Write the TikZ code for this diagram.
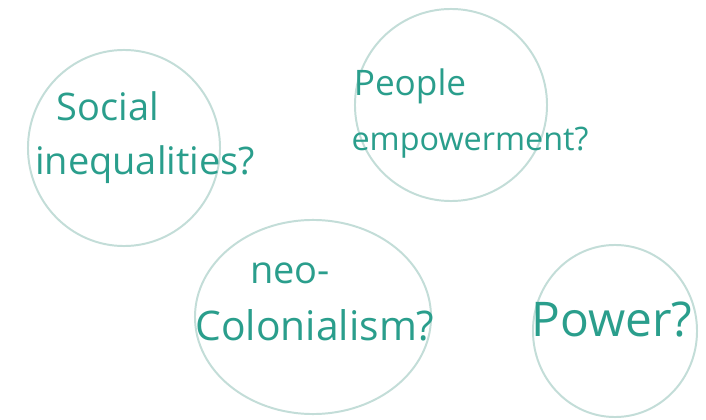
\documentclass[tikz,border=0pt]{standalone}
\usepackage{fontspec}
\setmainfont{Open Sans}
\usepackage{xcolor}
\definecolor{inkteal}{HTML}{2A9E8C}
\definecolor{ringgrey}{HTML}{C3DDD8}
\tikzset{%
	bubble/.style={
		ellipse,
		draw=ringgrey,
		line width=1.4pt
	},
	idea/.style={
		text=inkteal,
		inner sep=0pt,
		font=\fontsize{27}{32}\selectfont
	},
}
\usetikzlibrary{shapes.geometric}

\begin{document}
\begin{tikzpicture}[x=0.025cm, y=-0.025cm]

			\useasboundingbox (0,0) rectangle (706,420);
			\fill[white] (0,0) rectangle (706,420);

			\node[bubble, minimum width=4.8cm, minimum height=4.9cm] (socialc) at (124,148) {};
			\node[bubble, minimum width=4.8cm, minimum height=4.8cm] (peoplec) at (451,105) {};
			\node[bubble, minimum width=5.9cm, minimum height=4.85cm] (neoc) at (313,317) {};
			\node[bubble, minimum width=4.1cm, minimum height=4.3cm] (powerc) at (615,331) {};

			\node[idea] (social) at (108,106) {Social};
			\node[idea] (inequal) at (145,165) {inequalities?};

			\node[idea, font=\fontsize{25}{30}\selectfont] (people) at (410,86) {People};
			\node[idea, font=\fontsize{23}{28}\selectfont] (empower) at (470,143) {empowerment?};

			\node[idea] (neo) at (290,273) {neo-};
			\node[idea, font=\fontsize{29}{34}\selectfont] (colonial) at (315,325) {Colonialism?};

			\node[idea, font=\fontsize{34}{40}\selectfont] (power) at (612,320) {Power?};

\end{tikzpicture}
\end{document}
